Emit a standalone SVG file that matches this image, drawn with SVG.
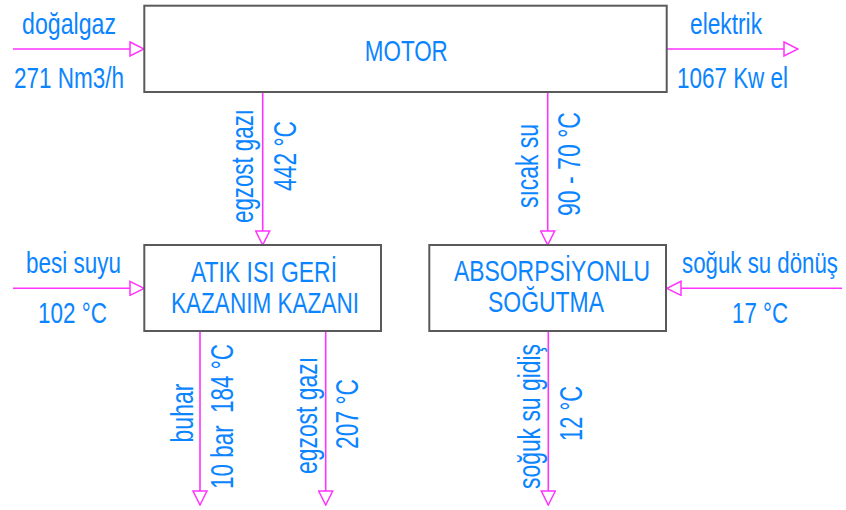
<svg xmlns="http://www.w3.org/2000/svg" width="846" height="510" viewBox="0 0 846 510">
<style>
.box{fill:#fff;stroke:#5a5a5a;stroke-width:2}
.ln{stroke:#ff33ff;stroke-width:1.6;fill:none;marker-end:url(#ah)}
.t{font-family:"Liberation Sans",Arial,sans-serif;font-size:30px;fill:#0a84ff;text-anchor:middle;white-space:pre}
.v{font-family:"Liberation Sans",Arial,sans-serif;font-size:32px;fill:#0a84ff;text-anchor:middle;white-space:pre}
</style>
<defs>
<marker id="ah" markerUnits="userSpaceOnUse" markerWidth="16" markerHeight="16" refX="14" refY="7" orient="auto" viewBox="-1 -1 16 16">
<path d="M0,0 L14,7 L0,14 Z" fill="#fff" stroke="#ff33ff" stroke-width="1.5"/>
</marker>
</defs>
<rect width="846" height="510" fill="#fff"/>
<g id="connectors">
<line class="ln" x1="13" y1="49" x2="144" y2="49"/>
<line class="ln" x1="667" y1="49" x2="798" y2="49"/>
<line class="ln" x1="262.7" y1="92" x2="262.7" y2="245"/>
<line class="ln" x1="547.7" y1="92" x2="547.7" y2="245"/>
<line class="ln" x1="13" y1="288.3" x2="144" y2="288.3"/>
<line class="ln" x1="842" y1="288.3" x2="667" y2="288.3"/>
<line class="ln" x1="200" y1="331" x2="200" y2="505"/>
<line class="ln" x1="325.7" y1="331" x2="325.7" y2="505"/>
<line class="ln" x1="548.3" y1="331" x2="548.3" y2="505"/>
</g>
<g id="motor">
<rect class="box" x="144.3" y="5.7" width="522.4" height="86.3"/>
<text class="t" x="406.3" y="60.7" textLength="83" lengthAdjust="spacingAndGlyphs">MOTOR</text>
</g>
<g id="atik">
<rect class="box" x="144.3" y="245" width="236.7" height="86"/>
<text class="t" x="264" y="282" textLength="146" lengthAdjust="spacingAndGlyphs">ATIK ISI GERİ</text>
<text class="t" x="265" y="313" textLength="188" lengthAdjust="spacingAndGlyphs">KAZANIM KAZANI</text>
</g>
<g id="absorp">
<rect class="box" x="429.3" y="245" width="236.7" height="86"/>
<text class="t" transform="translate(552,281) scale(0.764,1)">ABSORPSİYONLU</text>
<text class="t" x="546" y="312" textLength="116" lengthAdjust="spacingAndGlyphs">SOĞUTMA</text>
</g>
<g id="labels">
<text class="t" x="69" y="34" textLength="94" lengthAdjust="spacingAndGlyphs">doğalgaz</text>
<text class="t" x="69" y="88" textLength="110" lengthAdjust="spacingAndGlyphs">271 Nm3/h</text>
<text class="t" x="726" y="34" textLength="72" lengthAdjust="spacingAndGlyphs">elektrik</text>
<text class="t" x="732.5" y="88" textLength="111" lengthAdjust="spacingAndGlyphs">1067 Kw el</text>
<text class="t" x="73.5" y="273" textLength="95" lengthAdjust="spacingAndGlyphs">besi suyu</text>
<text class="t" x="72.5" y="323" textLength="69" lengthAdjust="spacingAndGlyphs">102 °C</text>
<text class="t" transform="translate(760,273) scale(0.742,1)">soğuk su dönüş</text>
<text class="t" x="760" y="323" textLength="56" lengthAdjust="spacingAndGlyphs">17 °C</text>
<text class="v" transform="translate(253,166) rotate(-90)" textLength="114" lengthAdjust="spacingAndGlyphs">egzost gazı</text>
<text class="v" transform="translate(296,156) rotate(-90)" textLength="70" lengthAdjust="spacingAndGlyphs">442 °C</text>
<text class="v" transform="translate(538,166) rotate(-90)" textLength="84" lengthAdjust="spacingAndGlyphs">sıcak su</text>
<text class="v" transform="translate(580,164) rotate(-90)" textLength="104" lengthAdjust="spacingAndGlyphs">90 - 70 °C</text>
<text class="v" transform="translate(192.5,413) rotate(-90)" textLength="59" lengthAdjust="spacingAndGlyphs">buhar</text>
<text class="v" transform="translate(233,416.5) rotate(-90)" textLength="145" lengthAdjust="spacingAndGlyphs" xml:space="preserve">10 bar  184 °C</text>
<text class="v" transform="translate(316.5,415.5) rotate(-90)" textLength="117" lengthAdjust="spacingAndGlyphs">egzost gazı</text>
<text class="v" transform="translate(358,414) rotate(-90)" textLength="70" lengthAdjust="spacingAndGlyphs">207 °C</text>
<text class="v" transform="translate(540,416.5) rotate(-90)" textLength="145" lengthAdjust="spacingAndGlyphs">soğuk su gidiş</text>
<text class="v" transform="translate(581.7,413.5) rotate(-90)" textLength="55" lengthAdjust="spacingAndGlyphs">12 °C</text>
</g>
</svg>
